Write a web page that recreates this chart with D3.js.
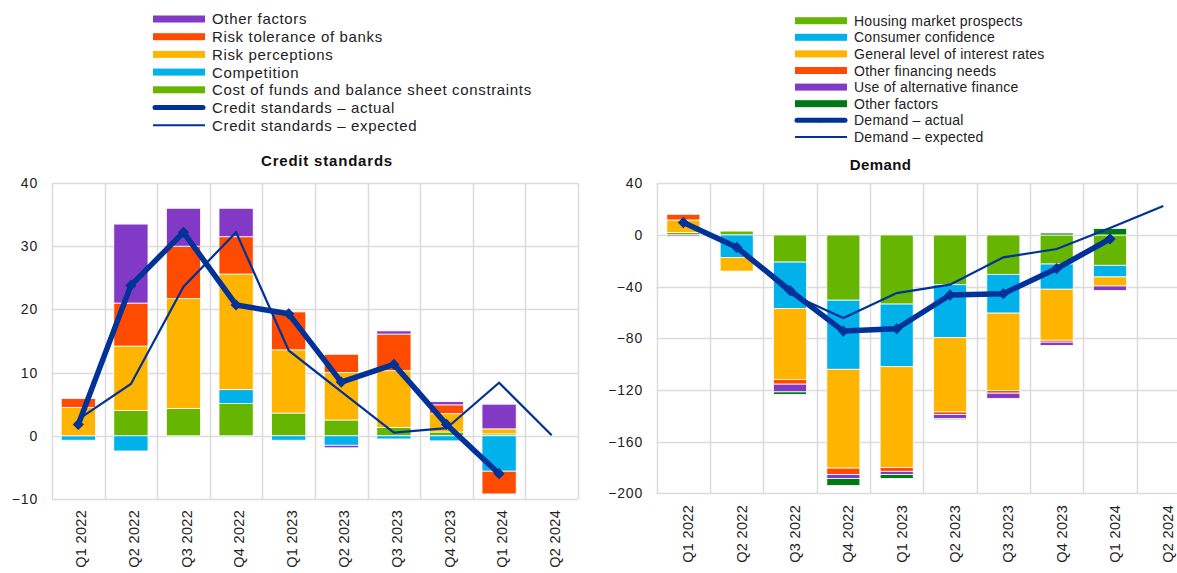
<!DOCTYPE html>
<html>
<head>
<meta charset="utf-8">
<script src="https://cdn.jsdelivr.net/npm/d3@7"></script>
<style>
  html, body { margin: 0; padding: 0; background: #fff; }
  svg { display: block; font-family: "Liberation Sans", Arial, sans-serif; }
</style>
</head>
<body>
<svg id="chart" width="1177" height="573"></svg>
<script>
// ---------- DATA ----------
const categories = ["Q1 2022","Q2 2022","Q3 2022","Q4 2022","Q1 2023","Q2 2023","Q3 2023","Q4 2023","Q1 2024","Q2 2024"];

// Credit standards (left panel)
const csCostOfFunds     = [0,    4.0,  4.3,  5.1,  3.6,  2.5,  1.3,  0.6,  0.3,  null];
const csCompetition     = [-0.7, -2.4, 0,    2.2,  -0.7, -1.5, -0.5, -0.8, -5.6, null];
const csRiskPerceptions = [4.5,  10.2, 17.4, 18.3, 10.0, 7.5,  9.0,  2.9,  0.8,  null];
const csRiskTolerance   = [1.4,  6.8,  8.3,  5.9,  6.0,  2.9,  5.8,  1.4,  -3.6, null];
const csOtherFactors    = [0,    12.5, 6.0,  4.5,  0,    -0.4, 0.5,  0.5,  3.9,  null];
const csActual          = [1.8,  23.8, 32.2, 20.7, 19.3, 8.5,  11.3, 1.8,  -6.0, null];
const csExpected        = [2.6,  8.2,  23.6, 32.2, 13.5, 7.0,  0.5,  1.2,  8.4,  0.1];
const csTicks = [-10, 0, 10, 20, 30, 40];

// Demand (right panel)
const dmHousing        = [2,    3,     -21,  -50.5, -53.5, -38.5, -30.5, -22.5, -23.5, null];
const dmConfidence     = [0,    -17.5, -36,  -53.5, -48.5, -41,   -30,   -19.5, -9,    null];
const dmInterestRates  = [9.6,  -10.5, -55,  -76.5, -78,   -57.5, -60,   -39.5, -7,    null];
const dmOtherFinancing = [4.4,  0,     -3.5, -5,    -3,    -2,    -2,    -1.5,  0,     null];
const dmAltFinance     = [-1,   0,     -6,   -3,    -2.5,  -3,    -4,    -2.5,  -3.5,  null];
const dmOtherFactors   = [0,    0,     -2,   -5.5,  -3,    -1,    0,     1.5,   5,     null];
const dmActual         = [9.6,  -9.6,  -43,  -74.4, -72.6, -46.5, -45.5, -26,   -3.1,  null];
const dmExpected       = [9,    -9,    -45.5,-64.3, -45,   -38.5, -17.3, -10.9, 5.4,   22.5];
const dmTicks = [-200, -160, -120, -80, -40, 0, 40];

// ---------- COLOURS ----------
const C = {
  purple: "#8139C6", red: "#FF4B00", yellow: "#FFB400", blue: "#00B1EA",
  green: "#66B500", darkgreen: "#007816", navy: "#003299", grid: "#dcdcdc", text: "#222"
};

const svg = d3.select("#chart");

function panel(cfg) {
  const g = svg.append("g");
  const x = d3.scaleBand().domain(categories).range(cfg.xRange)
    .paddingInner(cfg.pad).paddingOuter(cfg.pad / 2);
  const y = d3.scaleLinear().domain(cfg.yDomain).range(cfg.yRange);

  // gridlines
  g.append("g").selectAll("line.h").data(cfg.ticks).join("line")
    .attr("x1", cfg.xRange[0]).attr("x2", cfg.xRange[1])
    .attr("y1", d => Math.round(y(d)) + 0.5).attr("y2", d => Math.round(y(d)) + 0.5)
    .attr("stroke", C.grid).attr("stroke-width", 1.5);
  const bounds = categories.map(c => x(c) - x.step() * x.paddingInner() / 2);
  bounds.push(cfg.xRange[1]);
  g.append("g").selectAll("line.v").data(bounds).join("line")
    .attr("x1", d => Math.round(d) + 0.5).attr("x2", d => Math.round(d) + 0.5)
    .attr("y1", cfg.yRange[1]).attr("y2", cfg.yRange[0])
    .attr("stroke", C.grid).attr("stroke-width", 1.5);

  // y axis labels via d3 axis
  const ya = g.append("g").attr("transform", `translate(${cfg.yLabelX},0)`)
    .call(d3.axisLeft(y).tickValues(cfg.ticks).tickSize(0).tickPadding(0));
  ya.select(".domain").remove();
  ya.selectAll("text").attr("font-size", 14).attr("letter-spacing", 0.8).attr("fill", C.text)
    .attr("font-family", "Liberation Sans, Arial, sans-serif");

  // x axis labels
  const xa = g.append("g").attr("transform", `translate(0,${cfg.xLabelY})`)
    .call(d3.axisBottom(x).tickSize(0).tickPadding(0));
  xa.select(".domain").remove();
  xa.selectAll("text")
    .attr("font-size", 14.5).attr("letter-spacing", 0.3).attr("fill", C.text)
    .attr("font-family", "Liberation Sans, Arial, sans-serif")
    .attr("text-anchor", "end")
    .attr("transform", `translate(${cfg.xLabelDx},0) rotate(-90)`)
    .attr("x", 0).attr("y", 0).attr("dy", "0.35em");

  // stacked bars
  const rows = categories.map((c, i) => {
    const o = { cat: c };
    cfg.series.forEach(s => { o[s.key] = s.values[i] == null ? 0 : s.values[i]; });
    return o;
  });
  const stack = d3.stack().keys(cfg.series.map(s => s.key)).offset(d3.stackOffsetDiverging);
  const layers = stack(rows);
  g.append("g").selectAll("g").data(layers).join("g")
    .attr("fill", (d, i) => cfg.series[i].color)
    .selectAll("rect").data(d => d.filter(p => p[1] !== p[0])).join("rect")
    .attr("x", d => x(d.data.cat))
    .attr("width", x.bandwidth())
    .attr("y", d => y(Math.max(d[0], d[1])))
    .attr("height", d => Math.abs(y(d[0]) - y(d[1])))
    .attr("stroke", "#fff").attr("stroke-width", 0.8);

  const cx = c => x(c) + x.bandwidth() / 2;
  // expected line
  const expPts = categories.map((c, i) => [c, cfg.expected[i]]).filter(d => d[1] != null);
  g.append("path").datum(expPts)
    .attr("d", d3.line().x(d => cx(d[0])).y(d => y(d[1])))
    .attr("fill", "none").attr("stroke", C.navy).attr("stroke-width", 2.2);
  // actual line
  const actPts = categories.map((c, i) => [c, cfg.actual[i]]).filter(d => d[1] != null);
  g.append("path").datum(actPts)
    .attr("d", d3.line().x(d => cx(d[0])).y(d => y(d[1])))
    .attr("fill", "none").attr("stroke", C.navy).attr("stroke-width", 5.5)
    .attr("stroke-linejoin", "round");
  g.append("g").selectAll("path").data(actPts).join("path")
    .attr("d", d3.symbol(d3.symbolDiamond2, 80))
    .attr("transform", d => `translate(${cx(d[0])},${y(d[1])})`)
    .attr("fill", C.navy);

  // title
  g.append("text").attr("x", cfg.titleX).attr("y", cfg.titleY)
    .attr("text-anchor", "middle").attr("font-size", 15).attr("font-weight", "bold")
    .attr("letter-spacing", cfg.titleSpacing).attr("fill", "#111").text(cfg.title);

  // legend
  const lg = g.append("g");
  cfg.legend.forEach((it, i) => {
    const yy = cfg.legendY + i * cfg.legendStep;
    if (it.type === "bar") {
      lg.append("rect").attr("x", cfg.legendX).attr("y", yy - 3.5).attr("width", 52).attr("height", 7)
        .attr("fill", it.color);
    } else if (it.type === "thick") {
      lg.append("line").attr("x1", cfg.legendX + 2).attr("x2", cfg.legendX + 50).attr("y1", yy).attr("y2", yy)
        .attr("stroke", C.navy).attr("stroke-width", 5).attr("stroke-linecap", "round");
      lg.append("path").attr("d", d3.symbol(d3.symbolDiamond2, 14))
        .attr("transform", `translate(${cfg.legendX + 26},${yy})`).attr("fill", C.navy);
    } else {
      lg.append("line").attr("x1", cfg.legendX).attr("x2", cfg.legendX + 52).attr("y1", yy).attr("y2", yy)
        .attr("stroke", C.navy).attr("stroke-width", 2);
    }
    lg.append("text").attr("x", cfg.legendX + 59).attr("y", yy).attr("dy", "0.36em")
      .attr("font-size", cfg.legendFont).attr("letter-spacing", cfg.legendSpacing)
      .attr("fill", C.text).text(it.label);
  });
}

panel({
  xRange: [52, 578], pad: 0.35, yDomain: [-10, 40], yRange: [499, 183], ticks: csTicks,
  yLabelX: 38, xLabelY: 510, xLabelDx: 3,
  series: [
    { key: "cost", values: csCostOfFunds, color: C.green },
    { key: "comp", values: csCompetition, color: C.blue },
    { key: "riskp", values: csRiskPerceptions, color: C.yellow },
    { key: "riskt", values: csRiskTolerance, color: C.red },
    { key: "other", values: csOtherFactors, color: C.purple }
  ],
  actual: csActual, expected: csExpected,
  title: "Credit standards", titleX: 327, titleY: 166, titleSpacing: 0.8,
  legendX: 153, legendY: 19, legendStep: 17.7, legendFont: 15, legendSpacing: 0.65,
  legend: [
    { type: "bar", color: C.purple, label: "Other factors" },
    { type: "bar", color: C.red, label: "Risk tolerance of banks" },
    { type: "bar", color: C.yellow, label: "Risk perceptions" },
    { type: "bar", color: C.blue, label: "Competition" },
    { type: "bar", color: C.green, label: "Cost of funds and balance sheet constraints" },
    { type: "thick", label: "Credit standards \u2013 actual" },
    { type: "thin", label: "Credit standards \u2013 expected" }
  ]
});

panel({
  xRange: [656.7, 1190], pad: 0.38, yDomain: [-200, 40], yRange: [493.3, 183.3], ticks: dmTicks,
  yLabelX: 643, xLabelY: 505, xLabelDx: 5,
  series: [
    { key: "housing", values: dmHousing, color: C.green },
    { key: "conf", values: dmConfidence, color: C.blue },
    { key: "rates", values: dmInterestRates, color: C.yellow },
    { key: "fin", values: dmOtherFinancing, color: C.red },
    { key: "alt", values: dmAltFinance, color: C.purple },
    { key: "other", values: dmOtherFactors, color: C.darkgreen }
  ],
  actual: dmActual, expected: dmExpected,
  title: "Demand", titleX: 880.5, titleY: 170, titleSpacing: 0.4,
  legendX: 795, legendY: 20.7, legendStep: 16.6, legendFont: 14, legendSpacing: 0.25,
  legend: [
    { type: "bar", color: C.green, label: "Housing market prospects" },
    { type: "bar", color: C.blue, label: "Consumer confidence" },
    { type: "bar", color: C.yellow, label: "General level of interest rates" },
    { type: "bar", color: C.red, label: "Other financing needs" },
    { type: "bar", color: C.purple, label: "Use of alternative finance" },
    { type: "bar", color: C.darkgreen, label: "Other factors" },
    { type: "thick", label: "Demand \u2013 actual" },
    { type: "thin", label: "Demand \u2013 expected" }
  ]
});
</script>
</body>
</html>
